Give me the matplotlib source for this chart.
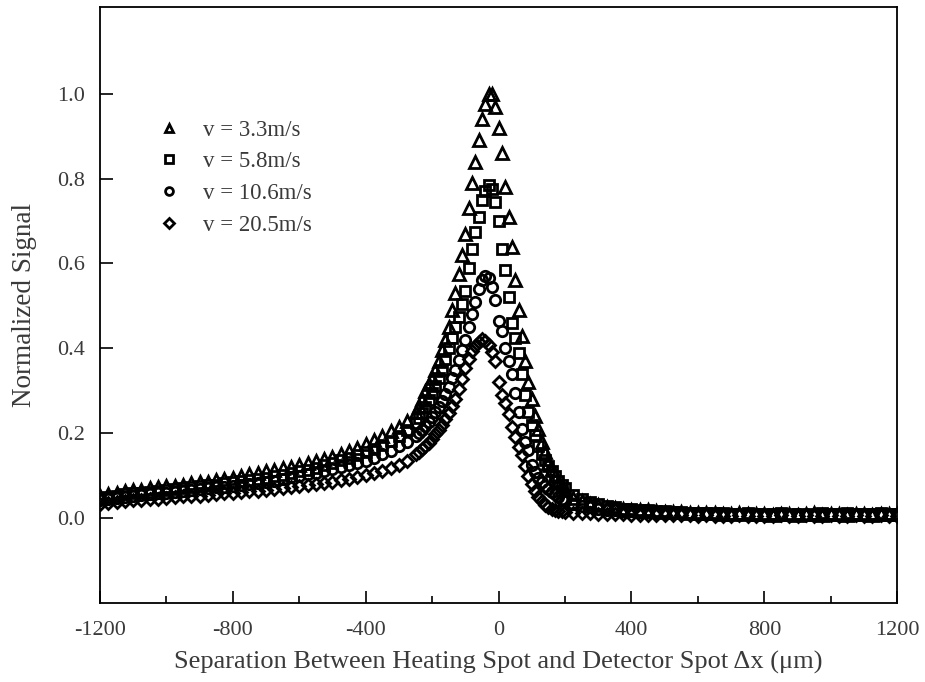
import numpy as np
import matplotlib
matplotlib.use('Agg')
import matplotlib.pyplot as plt
from matplotlib.ticker import MultipleLocator

# sample positions (um): coarse tails, finer around the peak
x_left = np.arange(-1200, -250, 25)
x_peak = np.arange(-250, 201, 10)
x_right = np.arange(225, 1201, 25)
x = np.concatenate([x_left, x_peak, x_right])

labels = ['v = 3.3m/s', 'v = 5.8m/s', 'v = 10.6m/s', 'v = 20.5m/s']
markers = ['^', 's', 'o', 'D']

# v = 3.3 m/s (triangles)
tri = [0.053, 0.057, 0.060, 0.063, 0.065, 0.067, 0.071, 0.073, 0.075, 0.076,
       0.079, 0.082, 0.085, 0.086, 0.089, 0.092, 0.095, 0.099, 0.103, 0.106,
       0.110, 0.113, 0.117, 0.121, 0.125, 0.129, 0.134, 0.139, 0.145, 0.151,
       0.158, 0.166, 0.175, 0.184, 0.194, 0.204, 0.215, 0.228,
       0.25, 0.265, 0.28, 0.30, 0.315, 0.33, 0.35, 0.37, 0.395, 0.42,
       0.45, 0.49, 0.53, 0.575, 0.62, 0.67, 0.73, 0.79, 0.84, 0.89,
       0.94, 0.975, 1.0, 1.0, 0.97, 0.92, 0.86, 0.78, 0.71, 0.64,
       0.56, 0.49, 0.43, 0.37, 0.32, 0.28, 0.24, 0.21, 0.18, 0.155,
       0.13, 0.115, 0.10, 0.085, 0.075, 0.065,
       0.048, 0.040, 0.034, 0.030, 0.027, 0.024, 0.022, 0.020, 0.019, 0.018,
       0.016, 0.015, 0.015, 0.014, 0.013, 0.012, 0.012, 0.011, 0.010, 0.010,
       0.011, 0.009, 0.009, 0.010, 0.008, 0.009, 0.010, 0.008, 0.009, 0.011,
       0.008, 0.009, 0.010, 0.008, 0.009, 0.010, 0.008, 0.009, 0.010, 0.009]

# v = 5.8 m/s (squares)
sq = [0.046, 0.050, 0.053, 0.056, 0.058, 0.060, 0.062, 0.064, 0.066, 0.068,
      0.070, 0.072, 0.075, 0.077, 0.079, 0.082, 0.085, 0.087, 0.090, 0.092,
      0.095, 0.099, 0.102, 0.106, 0.110, 0.114, 0.119, 0.124, 0.130, 0.136,
      0.142, 0.148, 0.155, 0.163, 0.172, 0.182, 0.194, 0.207,
      0.225, 0.235, 0.248, 0.262, 0.278, 0.295, 0.312, 0.33, 0.35, 0.375,
      0.40, 0.425, 0.45, 0.475, 0.505, 0.535, 0.59, 0.635, 0.675, 0.71,
      0.75, 0.77, 0.785, 0.775, 0.745, 0.70, 0.635, 0.585, 0.52, 0.46,
      0.425, 0.39, 0.34, 0.29, 0.25, 0.22, 0.195, 0.17, 0.152, 0.137,
      0.122, 0.11, 0.098, 0.088, 0.078, 0.07,
      0.055, 0.045, 0.038, 0.032, 0.028, 0.025, 0.022, 0.021, 0.019, 0.018,
      0.017, 0.016, 0.015, 0.014, 0.013, 0.013, 0.012, 0.011, 0.012, 0.010,
      0.010, 0.011, 0.009, 0.010, 0.009, 0.011, 0.009, 0.010, 0.008, 0.010,
      0.011, 0.009, 0.010, 0.011, 0.009, 0.010, 0.009, 0.011, 0.009, 0.010]

# v = 10.6 m/s (circles)
circ = [0.043, 0.046, 0.048, 0.050, 0.052, 0.054, 0.056, 0.058, 0.060, 0.062,
        0.064, 0.066, 0.068, 0.070, 0.072, 0.073, 0.075, 0.077, 0.080, 0.082,
        0.085, 0.088, 0.092, 0.096, 0.100, 0.103, 0.107, 0.111, 0.115, 0.120,
        0.125, 0.130, 0.135, 0.142, 0.150, 0.159, 0.169, 0.180,
        0.193, 0.200, 0.208, 0.217, 0.227, 0.238, 0.250, 0.262, 0.276, 0.292,
        0.31, 0.33, 0.35, 0.372, 0.395, 0.42, 0.45, 0.48, 0.51, 0.54,
        0.56, 0.57, 0.565, 0.545, 0.515, 0.465, 0.44, 0.40, 0.37, 0.34,
        0.295, 0.25, 0.21, 0.18, 0.16, 0.125, 0.108, 0.095, 0.085, 0.076,
        0.069, 0.062, 0.056, 0.05, 0.045, 0.041,
        0.034, 0.029, 0.025, 0.022, 0.020, 0.018, 0.017, 0.016, 0.015, 0.014,
        0.013, 0.013, 0.012, 0.011, 0.012, 0.010, 0.011, 0.009, 0.010, 0.009,
        0.008, 0.010, 0.009, 0.008, 0.009, 0.010, 0.008, 0.009, 0.010, 0.008,
        0.009, 0.010, 0.008, 0.009, 0.010, 0.008, 0.009, 0.008, 0.010, 0.009]

# v = 20.5 m/s (diamonds)
dia = [0.034, 0.036, 0.038, 0.040, 0.042, 0.043, 0.045, 0.046, 0.048, 0.049,
       0.051, 0.052, 0.053, 0.055, 0.056, 0.058, 0.059, 0.061, 0.063, 0.064,
       0.066, 0.068, 0.071, 0.073, 0.076, 0.078, 0.081, 0.083, 0.086, 0.089,
       0.093, 0.097, 0.101, 0.106, 0.111, 0.118, 0.126, 0.135,
       0.150, 0.156, 0.163, 0.170, 0.178, 0.187, 0.197, 0.208, 0.220, 0.234,
       0.248, 0.263, 0.280, 0.303, 0.328, 0.354, 0.376, 0.393, 0.405, 0.414,
       0.422, 0.418, 0.408, 0.392, 0.37, 0.32, 0.29, 0.272, 0.245, 0.215,
       0.192, 0.168, 0.148, 0.122, 0.098, 0.08, 0.064, 0.05, 0.04, 0.031,
       0.026, 0.022, 0.019, 0.017, 0.016, 0.015,
       0.013, 0.012, 0.011, 0.010, 0.010, 0.009, 0.009, 0.008, 0.008, 0.007,
       0.008, 0.007, 0.006, 0.007, 0.006, 0.005, 0.006, 0.005, 0.004, 0.005,
       0.006, 0.004, 0.005, 0.004, 0.005, 0.006, 0.004, 0.005, 0.006, 0.004,
       0.005, 0.006, 0.004, 0.005, 0.006, 0.005, 0.004, 0.006, 0.005, 0.005]

series = [tri, sq, circ, dia]


def main():
    plt.rcParams['font.family'] = ['Liberation Serif', 'DejaVu Serif']
    plt.rcParams['axes.unicode_minus'] = False
    text_color = '#3a3a3a'

    fig = plt.figure(figsize=(9.25, 6.82), dpi=100)
    ax = fig.add_axes([0.108, 0.116, 0.862, 0.874])

    sizes = {'^': 8, 's': 7.5, 'o': 7.5, 'D': 6.5}
    for y, m, lab in zip(series, markers, labels):
        ax.plot(x, y, linestyle='none', marker=m, markersize=sizes[m],
                markerfacecolor='none', markeredgecolor='black',
                markeredgewidth=2.0, label=lab)

    ax.set_xlim(-1200, 1200)
    ax.set_ylim(-0.2, 1.205)
    ax.xaxis.set_major_locator(MultipleLocator(400))
    ax.xaxis.set_minor_locator(MultipleLocator(200))
    ax.set_yticks([0.0, 0.2, 0.4, 0.6, 0.8, 1.0])
    ax.set_yticklabels(['0.0', '0.2', '0.4', '0.6', '0.8', '1.0'])
    ax.tick_params(axis='both', which='major', direction='in', length=9,
                   width=1.2, labelsize=16, labelcolor=text_color)
    ax.tick_params(axis='x', which='major', pad=13)
    ax.tick_params(axis='y', which='major', pad=11)
    ax.tick_params(axis='x', which='minor', direction='in', length=5, width=1.2)
    for sp in ax.spines.values():
        sp.set_linewidth(1.3)

    ax.set_xlabel('Separation Between Heating Spot and Detector Spot \u0394x (\u03bcm)',
                  fontsize=19, color=text_color, labelpad=8)
    ax.set_ylabel('Normalized Signal', fontsize=19.5, color=text_color, labelpad=14)

    leg = ax.legend(loc='upper left', bbox_to_anchor=(0.047, 0.845), frameon=False,
                    fontsize=16.5, markerscale=0.75, handlelength=1.0,
                    handletextpad=0.95, labelspacing=0.46)
    for t in leg.get_texts():
        t.set_color(text_color)

    fig.savefig('out.png', dpi=100)
    plt.close(fig)


if __name__ == '__main__':
    main()
